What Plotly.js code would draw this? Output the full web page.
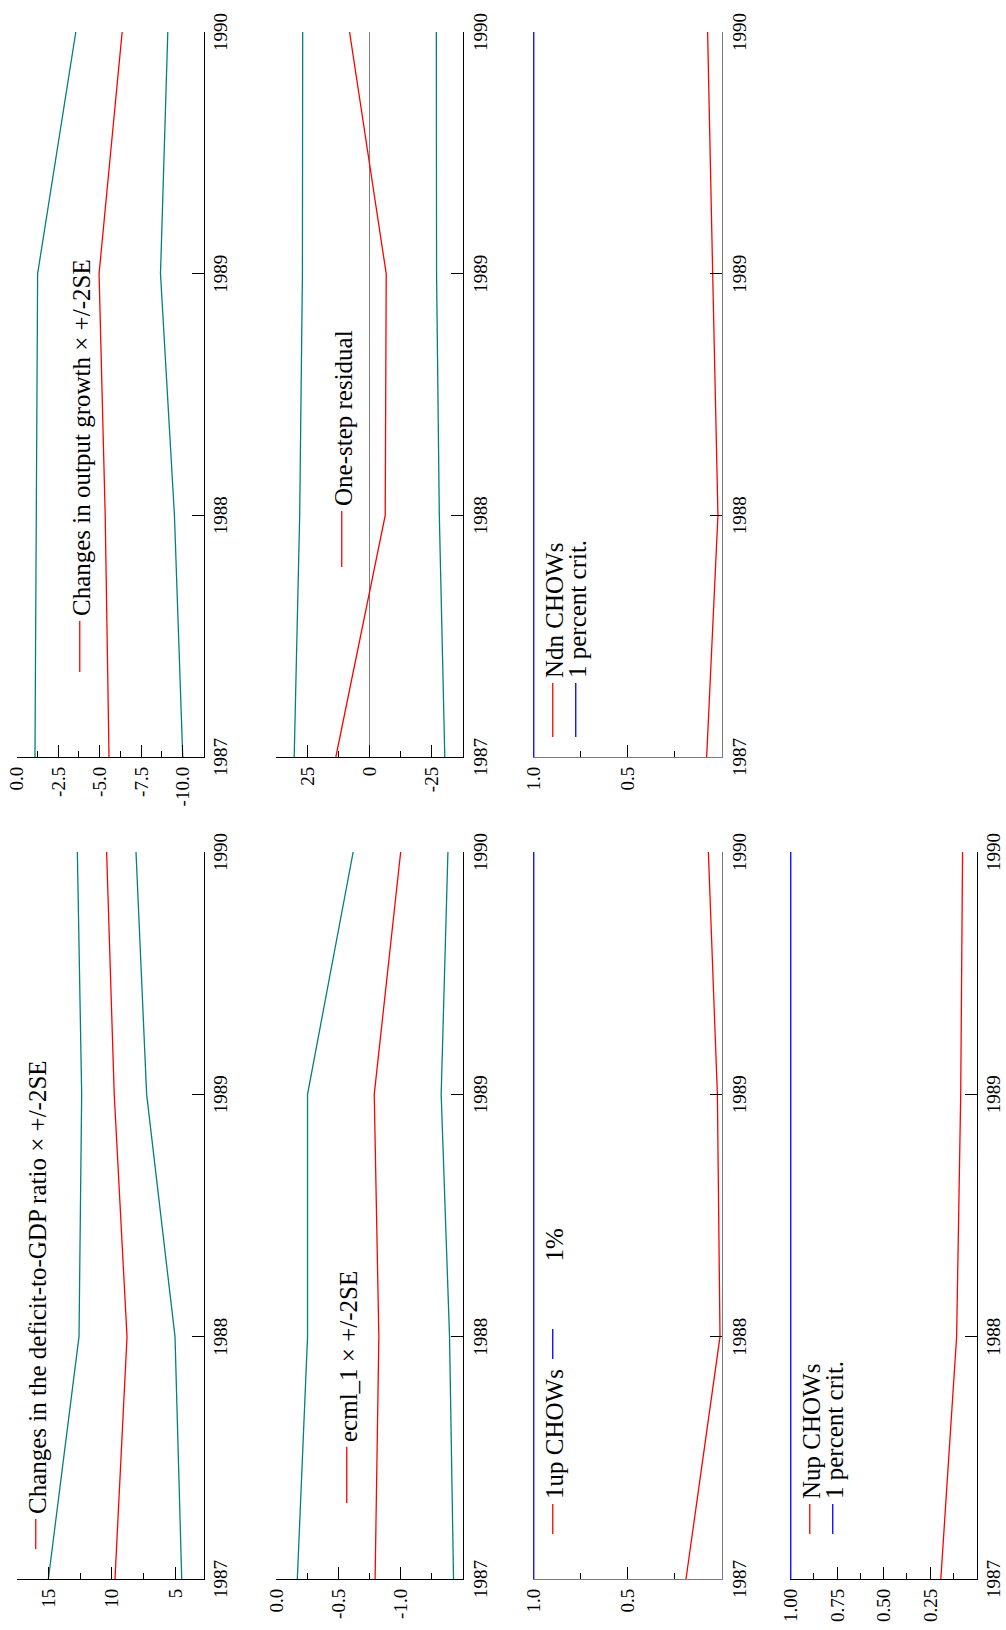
<!DOCTYPE html>
<html>
<head>
<meta charset="utf-8">
<script src="https://cdn.plot.ly/plotly-3.0.1.min.js"></script>
<style>
  html, body { margin: 0; padding: 0; width: 1006px; height: 1630px; overflow: hidden; background: #fff; }
  #wrap { position: absolute; left: 0; top: 0; width: 1630px; height: 1006px;
          transform-origin: 0 0; transform: translate(0px, 1630px) rotate(-90deg); }
  #chart { width: 1630px; height: 1006px; }
</style>
</head>
<body>
<div id="wrap"><div id="chart"></div></div>
<script>
// ---------------- data ----------------
const years = [1987, 1988, 1989, 1990];
const yearLabels = ['1987', '1988', '1989', '1990'];

const deficitCoef  = [9.74, 8.79, 9.8, 10.4];
const deficitUpper = [15.0, 12.58, 12.37, 12.71];
const deficitLower = [4.47, 5.0, 7.24, 8.08];

const outputCoef  = [-5.56, -5.33, -4.96, -6.35];
const outputUpper = [-1.1, -1.2, -1.26, -3.56];
const outputLower = [-10.0, -9.5, -8.66, -9.1];

const ecmCoef  = [-0.795, -0.825, -0.788, -1.0];
const ecmUpper = [-0.171, -0.253, -0.253, -0.619];
const ecmLower = [-1.424, -1.392, -1.325, -1.379];

const residual   = [13.5, -6.3, -6.7, 8.0];
const residUpper = [30.2, 28.0, 26.9, 26.8];
const residLower = [-30.2, -28.0, -26.9, -26.8];

const chow1up = [0.19, 0.009, 0.023, 0.071];
const chowNdn = [0.08, 0.02, 0.048, 0.075];
const chowNup = [0.192, 0.107, 0.085, 0.075];
const crit1pct = [1, 1, 1, 1];

const deficitTicks = [5, 10, 15];
const deficitTickText = ['5', '10', '15'];
const deficitMinor = [7.5, 12.5, 17.5];
const outputTicks = [0, -2.5, -5, -7.5, -10];
const outputTickText = ['0.0', '-2.5', '-5.0', '-7.5', '-10.0'];
const outputMinor = [-1.25, -3.75, -6.25, -8.75];
const ecmTicks = [0, -0.5, -1.0];
const ecmTickText = ['0.0', '-0.5', '-1.0'];
const ecmMinor = [-0.25, -0.75, -1.25];
const residTicks = [25, 0, -25];
const residTickText = ['25', '0', '-25'];
const residMinor = [37.5, 12.5, -12.5];
const chowTicks = [0.5, 1.0];
const chowTickText = ['0.5', '1.0'];
const chowMinor = [0.25, 0.75];
const nupTicks = [0.25, 0.5, 0.75, 1.0];
const nupTickText = ['0.25', '0.50', '0.75', '1.00'];
const nupMinor = [0.125, 0.375, 0.625, 0.875];

const names = {
  deficit: 'Changes in the deficit-to-GDP ratio \u00d7 +/-2SE',
  output: 'Changes in output growth \u00d7 +/-2SE',
  ecm: 'ecml_1 \u00d7 +/-2SE',
  resid: 'One-step residual',
  up1: '1up CHOWs',
  pct1: '\u00a0\u00a0\u00a0\u00a0\u00a0\u00a0\u00a0\u00a0\u00a0\u00a01%',
  ndn: 'Ndn CHOWs',
  nup: 'Nup CHOWs',
  crit: '1 percent crit.'
};

// ---------------- styles ----------------
const W = 1630, H = 1006;
const FONT = 'Liberation Serif, Times New Roman, serif';
const TEAL = '#008080', RED = '#ff0000', BLUE = '#0000ff';
const LW = 1.3;

function line(x, y, xa, ya, color, name, legend, show) {
  return { type: 'scatter', mode: 'lines', x: x, y: y, xaxis: xa, yaxis: ya,
           line: { color: color, width: LW }, name: name || '',
           showlegend: !!show, legend: legend || 'legend', hoverinfo: 'skip' };
}

const traces = [
  line(years, deficitUpper, 'x', 'y', TEAL),
  line(years, deficitLower, 'x', 'y', TEAL),
  line(years, deficitCoef, 'x', 'y', RED, names.deficit, 'legend', true),

  line(years, outputUpper, 'x2', 'y2', TEAL),
  line(years, outputLower, 'x2', 'y2', TEAL),
  line(years, outputCoef, 'x2', 'y2', RED, names.output, 'legend2', true),

  line(years, ecmUpper, 'x3', 'y3', TEAL),
  line(years, ecmLower, 'x3', 'y3', TEAL),
  line(years, ecmCoef, 'x3', 'y3', RED, names.ecm, 'legend3', true),

  line(years, residUpper, 'x4', 'y4', TEAL),
  line(years, residLower, 'x4', 'y4', TEAL),
  line(years, residual, 'x4', 'y4', RED, names.resid, 'legend4', true),

  line(years, chow1up, 'x5', 'y5', RED, names.up1, 'legend5', true),
  line(years, crit1pct, 'x5', 'y5', BLUE, names.pct1, 'legend6', true),

  line(years, chowNdn, 'x6', 'y6', RED, names.ndn, 'legend7', true),
  line(years, crit1pct, 'x6', 'y6', BLUE, names.crit, 'legend8', true),

  line(years, chowNup, 'x7', 'y7', RED, names.nup, 'legend9', true),
  line(years, crit1pct, 'x7', 'y7', BLUE, names.crit, 'legend10', true)
];

const colL = [51 / W, 778 / W];
const colR = [873 / W, 1598 / W];
function rowDom(top, bottom) { return [1 - bottom / H, 1 - top / H]; }
const row1 = rowDom(16.7, 203.5), row2 = rowDom(276, 463), row3 = rowDom(533, 721.7), row4 = rowDom(790, 976.5);

function xax(dom, anchor, lc) {
  return { domain: dom, anchor: anchor, range: [1987, 1990], tickvals: years, ticktext: yearLabels,
           ticks: 'inside', ticklen: 12, tickwidth: 1, tickcolor: '#000',
           showline: true, linecolor: lc || '#000', linewidth: 1, showgrid: false, zeroline: false,
           ticklabelstandoff: 0, tickfont: { family: FONT, size: 19, color: '#000' }, fixedrange: true };
}
function yax(dom, anchor, range, tv, tt, minor, lc, zero) {
  return { domain: dom, anchor: anchor, range: range, tickvals: tv, ticktext: tt,
           ticks: 'inside', ticklen: 12, tickwidth: 1, tickcolor: '#000',
           minor: { tickvals: minor, ticks: 'inside', ticklen: 6, tickwidth: 1, tickcolor: '#000', showgrid: false },
           showline: true, linecolor: lc || '#000', linewidth: 1, showgrid: false,
           zeroline: !!zero, zerolinecolor: '#808080', zerolinewidth: 1,
           ticklabelstandoff: 5, tickfont: { family: FONT, size: 19, color: '#000' }, fixedrange: true };
}
function leg(x0, yc, iw) {
  return { x: x0 / W, y: 1 - yc / H, xanchor: 'left', yanchor: 'middle', xref: 'paper', yref: 'paper',
           bgcolor: 'rgba(0,0,0,0)', borderwidth: 0, itemwidth: iw || 30, tracegroupgap: 0,
           font: { family: FONT, size: 25, color: '#000' } };
}

const GRAY = '#7a7a7a';
const layout = {
  width: W, height: H, margin: { l: 0, r: 0, t: 0, b: 0 },
  paper_bgcolor: '#fff', plot_bgcolor: 'rgba(0,0,0,0)',
  font: { family: FONT, color: '#000' },
  xaxis: xax(colL, 'y'),
  yaxis: yax(row1, 'x', [2.75, 17.5], deficitTicks, deficitTickText, deficitMinor),
  xaxis2: xax(colR, 'y2'),
  yaxis2: yax(row1, 'x2', [-11.25, 0], outputTicks, outputTickText, outputMinor),
  xaxis3: xax(colL, 'y3'),
  yaxis3: yax(row2, 'x3', [-1.5, 0], ecmTicks, ecmTickText, ecmMinor),
  xaxis4: xax(colR, 'y4'),
  yaxis4: yax(row2, 'x4', [-37.5, 37.5], residTicks, residTickText, residMinor, null, true),
  xaxis5: xax(colL, 'y5', GRAY),
  yaxis5: yax(row3, 'x5', [0, 1.004], chowTicks, chowTickText, chowMinor, GRAY),
  xaxis6: xax(colR, 'y6', GRAY),
  yaxis6: yax(row3, 'x6', [0, 1.004], chowTicks, chowTickText, chowMinor, GRAY),
  xaxis7: xax(colL, 'y7'),
  yaxis7: yax(row4, 'x7', [0, 1.004], nupTicks, nupTickText, nupMinor),
  legend: leg(76, 36),
  legend2: leg(953, 80, 51),
  legend3: leg(122, 347, 56),
  legend4: leg(1058, 342, 56),
  legend5: leg(91, 553),
  legend6: leg(266, 553),
  legend7: leg(888, 553, 54),
  legend8: leg(888, 576, 54),
  legend9: leg(91, 810),
  legend10: leg(91, 833)
};

Plotly.newPlot('chart', traces, layout, { displayModeBar: false, staticPlot: true });
</script>
</body>
</html>
